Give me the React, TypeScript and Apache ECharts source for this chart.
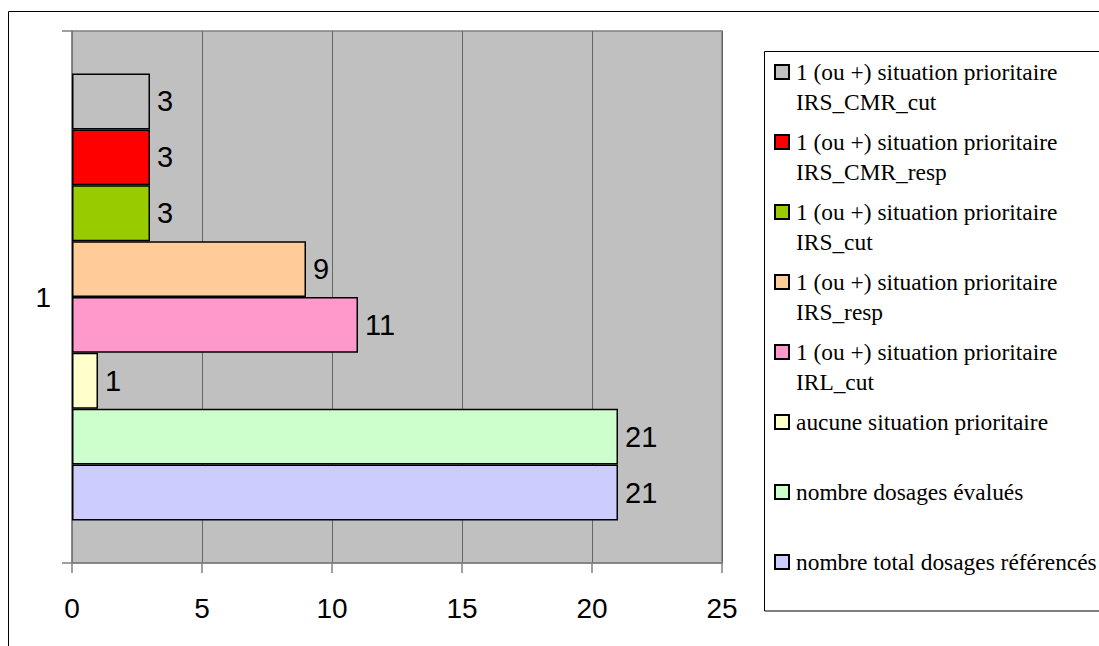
import React, { useEffect, useRef } from "react";
import * as echarts from "echarts";

const categories = ["1"];
const seriesNames = [
  "1 (ou +) situation prioritaire\nIRS_CMR_cut",
  "1 (ou +) situation prioritaire\nIRS_CMR_resp",
  "1 (ou +) situation prioritaire\nIRS_cut",
  "1 (ou +) situation prioritaire\nIRS_resp",
  "1 (ou +) situation prioritaire\nIRL_cut",
  "aucune situation prioritaire",
  "nombre dosages évalués",
  "nombre total dosages référencés",
];
const seriesValues = [3, 3, 3, 9, 11, 1, 21, 21];
const seriesColors = ["#C0C0C0", "#FF0000", "#99CC00", "#FFCC99", "#FF99CC", "#FFFFCC", "#CCFFCC", "#CCCCFF"];
const xMin = 0;
const xMax = 25;
const xInterval = 5;

export default function App() {
  const ref = useRef<HTMLDivElement>(null);
  useEffect(() => {
    if (!ref.current) return;
    const chart = echarts.init(ref.current, null, { renderer: "svg" });
    const sans = "'Liberation Sans', Arial, sans-serif";
    const serif = "'Liberation Serif', 'Times New Roman', serif";
    chart.setOption({
      animation: false,
      backgroundColor: "#ffffff",
      grid: {
        left: 72,
        top: 31,
        right: 377,
        bottom: 83,
        show: true,
        backgroundColor: "#C0C0C0",
        borderColor: "#808080",
        borderWidth: 1.5,
        containLabel: false,
      },
      legend: {
        orient: "vertical",
        left: 774,
        top: 27,
        padding: 0,
        itemWidth: 14,
        itemHeight: 14,
        itemGap: -20,
        icon: "rect",
        selectedMode: false,
        data: seriesNames,
        formatter: (n: string) => "\u00a0\n" + n + (n.indexOf("\n") >= 0 ? "" : "\n\u00a0"),
        itemStyle: { borderColor: "#000", borderWidth: 2 },
        textStyle: { fontFamily: serif, fontSize: 23.4, lineHeight: 30, color: "#000", padding: [0, 0, 0, 2] },
      },
      xAxis: {
        type: "value",
        min: xMin,
        max: xMax,
        interval: xInterval,
        axisLine: { show: true, lineStyle: { color: "#808080", width: 1.5 } },
        axisTick: { show: true, length: 10, inside: false, lineStyle: { color: "#808080", width: 1.5 } },
        axisLabel: { fontFamily: sans, fontSize: 28, color: "#000", margin: 31 },
        splitLine: { show: true, lineStyle: { color: "#666666", width: 1 } },
      },
      yAxis: {
        type: "category",
        data: categories,
        axisLine: { show: true, lineStyle: { color: "#808080", width: 1.5 } },
        axisTick: { show: true, length: 10, inside: false, lineStyle: { color: "#808080", width: 1.5 } },
        axisLabel: { fontFamily: sans, fontSize: 28, color: "#000", margin: 21 },
        splitLine: { show: false },
      },
      graphic: [
        {
          type: "polyline",
          shape: { points: [[1120, 11.5], [8.5, 11.5], [8.5, 670]] },
          style: { fill: "none", stroke: "#000", lineWidth: 1 },
          silent: true,
        },
        {
          type: "polyline",
          shape: { points: [[1120, 51.5], [764.5, 51.5], [764.5, 611], [1120, 611]] },
          style: { fill: "none", stroke: "#000", lineWidth: 1 },
          silent: true,
        },
      ],
      series: seriesNames.map((name, i) => ({
        type: "bar",
        name,
        data: [seriesValues[i]],
        barGap: "0%",
        barCategoryGap: "16%",
        itemStyle: { color: seriesColors[i], borderColor: "#000", borderWidth: 1.5 },
        label: {
          show: true,
          position: "right",
          distance: 7,
          fontFamily: sans,
          fontSize: 29,
          color: "#000",
        },
      })),
    });
    return () => chart.dispose();
  }, []);
  return (
    <div
      ref={ref}
      style={{ position: "fixed", left: 0, top: 0, width: 1099, height: 646 }}
    />
  );
}
